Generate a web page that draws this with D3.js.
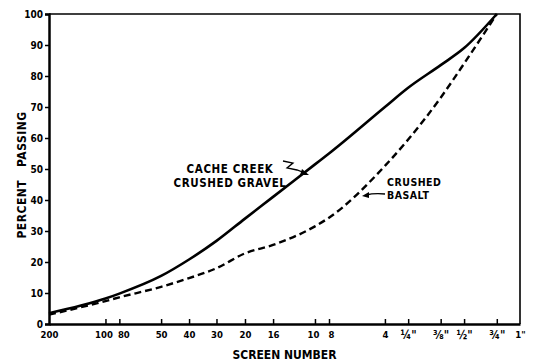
<!DOCTYPE html>
<html lang="en">
<head>
  <meta charset="UTF-8">
  <title>Percent Passing vs Screen Number</title>
  <script src="https://d3js.org/d3.v7.min.js"></script>
  <style>
    body { margin: 0; background: #fff; }
    text { font-family: "DejaVu Sans Condensed", "DejaVu Sans", sans-serif; font-weight: bold; fill: #000; }
    .tick-label { font-size: 9.5px; }
    .axis-title { font-size: 12px; }
    .note { font-size: 11.5px; letter-spacing: 0.6px; }
    .note-sm { font-size: 10.5px; letter-spacing: 0.5px; }
  </style>
</head>
<body>
  <div id="chart"></div>
  <script>
    // screen openings (mm) and their labels
    const screenLabels = ["200", "100", "80", "50", "40", "30", "20", "16", "10", "8", "4", "\u00BC\"", "\u215C\"", "\u00BD\"", "\u00BE\"", "1\""];
    const screenSizes = [0.074, 0.149, 0.177, 0.297, 0.42, 0.59, 0.84, 1.19, 2.0, 2.38, 4.76, 6.35, 9.5, 12.7, 19.05, 25.4];

    // curves, read at screens 200 .. 3/4"
    const gravelPassing = [3.5, 8.2, 9.8, 15.5, 20.8, 26.8, 34, 41, 51.5, 55, 70, 76.2, 83.5, 89, 100];
    const basaltPassing = [3, 7.4, 8.6, 12, 14.8, 18, 22.8, 25.5, 31.5, 34.3, 51, 59.5, 73, 84, 100];

    const yTicks = [0, 10, 20, 30, 40, 50, 60, 70, 80, 90, 100];

    const width = 535, height = 362;
    const m = { left: 49, right: 520, top: 14, bottom: 324 };

    const svg = d3.select("#chart").append("svg")
      .attr("width", width).attr("height", height);

    const x = d3.scaleLog().domain([0.074, 25.4]).range([m.left, m.right]);
    const y = d3.scaleLinear().domain([0, 100]).range([m.bottom, m.top]);

    // frame
    svg.append("path")
      .attr("d", `M${m.left},${m.top}H${m.right}V${m.bottom}`)
      .attr("fill", "none").attr("stroke", "#000").attr("stroke-width", 1.6);

    // y axis
    const yAxis = svg.append("g")
      .attr("transform", `translate(${m.left},0)`)
      .call(d3.axisLeft(y).tickValues(yTicks).tickSize(4).tickPadding(2));
    yAxis.attr("font-family", null).attr("font-size", null);
    yAxis.select(".domain").attr("stroke-width", 2.5);
    yAxis.selectAll(".tick line").attr("stroke-width", 1.5);
    yAxis.selectAll(".tick text").attr("class", "tick-label").style("font-size", "10px");

    // x axis: ticks pointing inward
    const xAxis = svg.append("g")
      .attr("transform", `translate(0,${m.bottom})`)
      .call(d3.axisBottom(x).tickValues(screenSizes).tickFormat((d, i) => screenLabels[i]).tickSize(0).tickPadding(7));
    xAxis.attr("font-family", null).attr("font-size", null);
    xAxis.select(".domain").attr("stroke-width", 2.5);
    xAxis.selectAll(".tick text").attr("class", "tick-label")
      .attr("dx", (d, i) => i === 1 ? -2 : i === 2 ? 4 : i === 8 ? -2 : i === 9 ? 2 : 0)
      .style("font-size", (d, i) => i >= 11 && i <= 14 ? "11.5px" : null);
    xAxis.selectAll(".tick")
      .filter((d, i) => i > 0 && i < screenSizes.length - 1)
      .append("line").attr("y1", 0).attr("y2", -5)
      .attr("stroke", "#000").attr("stroke-width", 1.5);

    // axis titles
    svg.append("text").attr("class", "axis-title")
      .attr("x", (m.left + m.right) / 2).attr("y", 359)
      .attr("text-anchor", "middle").text("SCREEN NUMBER");
    svg.append("text").attr("class", "axis-title")
      .attr("transform", `translate(26,${(m.top + m.bottom) / 2 + 6}) rotate(-90)`)
      .attr("text-anchor", "middle").attr("letter-spacing", "0.5px").text("PERCENT \u00A0 PASSING");

    // curves
    const line = d3.line()
      .x((d, i) => x(screenSizes[i]))
      .y(d => y(d))
      .curve(d3.curveMonotoneX);

    svg.append("path").datum(gravelPassing)
      .attr("d", line).attr("fill", "none")
      .attr("stroke", "#000").attr("stroke-width", 2.6);
    svg.append("path").datum(basaltPassing)
      .attr("d", line).attr("fill", "none")
      .attr("stroke", "#000").attr("stroke-width", 2.4)
      .attr("stroke-dasharray", "7,4");

    // labels
    svg.append("text").attr("class", "note").attr("x", 230).attr("y", 173)
      .attr("text-anchor", "middle").text("CACHE CREEK");
    svg.append("text").attr("class", "note").attr("x", 230).attr("y", 187)
      .attr("text-anchor", "middle").text("CRUSHED GRAVEL");
    svg.append("text").attr("class", "note-sm").attr("x", 387).attr("y", 186).text("CRUSHED");
    svg.append("text").attr("class", "note-sm").attr("x", 387).attr("y", 199).text("BASALT");

    // squiggly leader to gravel curve
    svg.append("path")
      .attr("d", "M283,161 L293,163 L287,168 L297,170 L305,173")
      .attr("fill", "none").attr("stroke", "#000").attr("stroke-width", 1.3);
    svg.append("path").attr("d", "M309,175 L302,169 L300,175 Z").attr("fill", "#000");

    // leader to basalt curve
    svg.append("path")
      .attr("d", "M385,194 Q374,193 366,195")
      .attr("fill", "none").attr("stroke", "#000").attr("stroke-width", 1.3);
    svg.append("path").attr("d", "M362,196 L369,192 L369,198 Z").attr("fill", "#000");
  </script>
</body>
</html>
